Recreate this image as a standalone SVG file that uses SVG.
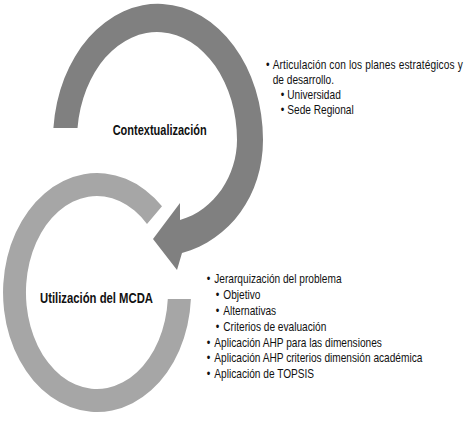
<svg xmlns="http://www.w3.org/2000/svg" width="465" height="427" viewBox="0 0 465 427">
  <style>
    .label { font-family: "Liberation Sans", Arial, sans-serif; font-weight: bold; font-size: 14px; fill: #111; }
    .item { font-family: "Liberation Sans", Arial, sans-serif; font-size: 12px; fill: #111; }
    .dark { fill: #808080; }
    .light { fill: #a6a6a6; }
  </style>
  <rect width="465" height="427" fill="#ffffff"/>

  <g id="node-utilizacion">
    <path class="light" d="M190.9,299 A94,119.5 0 1 1 162,206.2 L147,224 A71,96.5 0 1 0 167.8,299 Z"/>
    <text class="label" x="40" y="303" textLength="113" lengthAdjust="spacingAndGlyphs">Utilización del MCDA</text>
  </g>

  <g id="node-contextualizacion">
    <path class="dark" d="M53.4,128 A105,136 0 0 1 263,140 C263,195 230,240 182,253 L177,270 L153,239 L180,203 L180,220 C215,210 237,175 237,140 A80,108 0 0 0 77.5,128 Z"/>
    <text class="label" x="112.7" y="135" textLength="94" lengthAdjust="spacingAndGlyphs">Contextualización</text>
  </g>

  <g id="connectors"></g>

  <g id="list-contextualizacion" transform="matrix(0.845,0,0,1,266,0)">
    <text class="item" x="0" y="69.5">•</text>
    <text class="item" x="7.9" y="69.5" textLength="224.9">Articulación con los planes estratégicos y</text>
    <text class="item" x="7.9" y="84">de desarrollo.</text>
    <text class="item" x="17.4" y="99.5">•</text>
    <text class="item" x="25.2" y="99.5">Universidad</text>
    <text class="item" x="17.4" y="114.5">•</text>
    <text class="item" x="25.2" y="114.5">Sede Regional</text>
  </g>

  <g id="list-utilizacion" transform="matrix(0.845,0,0,1,206.7,0)">
    <text class="item" x="0" y="283.5">•</text>
    <text class="item" x="9" y="283.5">Jerarquización del problema</text>
    <text class="item" x="10.6" y="299.3">•</text>
    <text class="item" x="19.6" y="299.3">Objetivo</text>
    <text class="item" x="10.6" y="315">•</text>
    <text class="item" x="19.6" y="315">Alternativas</text>
    <text class="item" x="10.6" y="330.8">•</text>
    <text class="item" x="19.6" y="330.8">Criterios de evaluación</text>
    <text class="item" x="0" y="346.6">•</text>
    <text class="item" x="9" y="346.6">Aplicación AHP para las dimensiones</text>
    <text class="item" x="0" y="362.4">•</text>
    <text class="item" x="9" y="362.4">Aplicación AHP criterios dimensión académica</text>
    <text class="item" x="0" y="378.2">•</text>
    <text class="item" x="9" y="378.2">Aplicación de TOPSIS</text>
  </g>
</svg>
